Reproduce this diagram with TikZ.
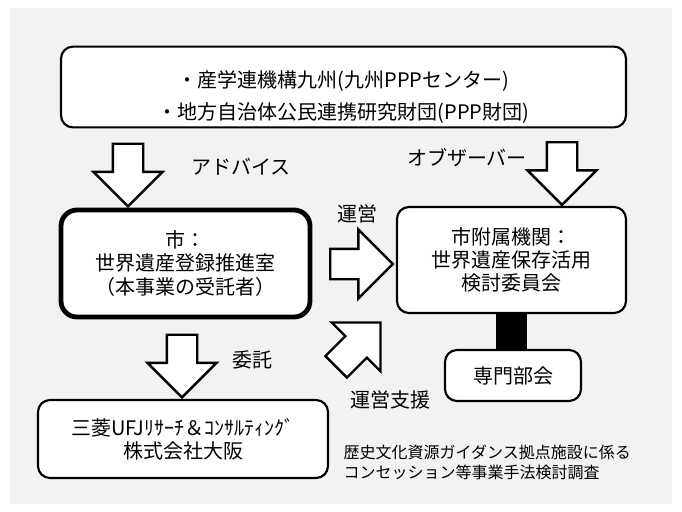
\documentclass[tikz,border=0pt]{standalone}
\usepackage{fontspec}
\setmainfont{Noto Sans CJK JP}
\usepackage{xcolor}
\definecolor{bggray}{RGB}{242,242,242}
\usepackage{tikz}
\usetikzlibrary{shapes.arrows}
\tikzstyle{box} = [
    rectangle, text centered, align=center,
    draw, fill=white,
    line width=1.6pt,
    rounded corners=9pt,
    font=\fontsize{15}{17.5}\selectfont,
]
\tikzstyle{office} = [
    box,
    line width=3.6pt,
    rounded corners=12pt,
]
\tikzstyle{flowlabel} = [
    font=\fontsize{15}{18}\selectfont,
]
\tikzstyle{bigarrow} = [
    single arrow, draw, fill=white,
    line width=1.8pt,
    inner sep=10.5pt,
    minimum height=47pt,
    single arrow head extend=14.5pt,
]

\begin{document}
\begin{tikzpicture}[x=0.75pt, y=-0.75pt]
    % background
    \fill[bggray] (10,8) rectangle (672,504);
    \useasboundingbox (0,0) rectangle (682,511);

    % boxes
    \node (advisor) at (343.5,87) [box, minimum width=423.75pt, minimum height=58.5pt]
        {\rule{0pt}{27pt}・産学連機構九州(九州PPPセンター)\\[6.5pt]・地方自治体公民連携研究財団(PPP財団)};
    \node (city) at (185.5,263.5) [office, minimum width=186.75pt, minimum height=80.25pt]
        {市：\\世界遺産登録推進室\\（本事業の受託者）};
    \node (committee) at (511.5,260) [box, minimum width=171.75pt, minimum height=79.5pt]
        {市附属機関：\\世界遺産保存活用\\検討委員会};
    \node (subcommittee) at (513,375.5) [box, minimum width=102pt, minimum height=38.25pt] {専門部会};
    \node (consultant) at (183,439) [box, minimum width=217.5pt, minimum height=58.5pt]
        {三菱UFJﾘｻｰﾁ＆ｺﾝｻﾙﾃｨﾝｸﾞ\\株式会社大阪};
    \node (study) at (339,462) [anchor=west, align=left, font=\fontsize{12}{15}\selectfont]
        {歴史文化資源ガイダンス拠点施設に係る\\コンセッション等事業手法検討調査};

    % arrows
    \foreach \name/\pos/\dir in {advice/{128,167.5}/-90, observe/{562,166}/-90,
            operate/{354,264}/0, entrust/{182,358.5}/-90, support/{353,350}/45} {
        \node (\name) at (\pos) [bigarrow, rotate=\dir] {};
    }
    \draw [line width=23pt] (committee.south) -- (committee.south |- subcommittee.north);

    % labels
    \node (advicetext) at (241,167) [flowlabel] {アドバイス};
    \node (observetext) at (467,158) [flowlabel] {オブザーバー};
    \node (operatetext) at (357,214) [flowlabel] {運営};
    \node (entrusttext) at (252,360) [flowlabel] {委託};
    \node (supporttext) at (390,400) [flowlabel] {運営支援};

\end{tikzpicture}
\end{document}
